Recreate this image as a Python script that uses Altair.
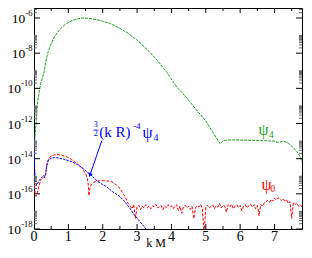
import altair as alt
import pandas as pd

# ---------------- data (log10 values) ----------------
green_x = [0.01, 0.05, 0.10, 0.15, 0.20, 0.25, 0.29, 0.34, 0.40, 0.48, 0.60, 0.75,
           0.90, 1.05, 1.20, 1.40, 1.60, 1.89, 2.20, 2.46, 2.75, 3.02, 3.30, 3.59,
           3.87, 4.15, 4.45, 4.72, 5.00, 5.19, 5.30, 5.42, 5.50, 5.60, 5.85, 6.20,
           6.60, 6.98, 7.12, 7.26, 7.40, 7.54, 7.65, 7.74, 7.80]
green_lg = [-13.2, -12.2, -10.9, -10.2, -9.7, -9.35, -9.15, -8.5, -8.0, -7.55, -7.05, -6.65,
            -6.38, -6.2, -6.08, -6.0, -6.02, -6.12, -6.3, -6.54, -6.88, -7.29, -7.8, -8.41,
            -9.1, -9.91, -10.55, -11.21, -11.85, -12.45, -12.8, -13.15, -13.0, -12.95, -12.93, -12.95,
            -12.97, -13.0, -13.08, -13.0, -13.12, -13.35, -13.6, -13.85, -14.2]

red_x = [0.01, 0.03, 0.06, 0.10, 0.15, 0.20, 0.25, 0.28, 0.31, 0.34, 0.38, 0.43, 0.50,
         0.60, 0.70, 0.80, 0.90, 1.00, 1.10, 1.20, 1.30, 1.40, 1.50, 1.55, 1.58, 1.60,
         1.62, 1.65, 1.70, 1.80, 1.90, 2.00, 2.10, 2.20, 2.30, 2.40, 2.46, 2.55, 2.65,
         2.74,
         2.80, 2.85, 2.90, 2.95, 3.00, 3.05, 3.10, 3.15, 3.20, 3.25, 3.30, 3.35, 3.40,
         3.45, 3.50, 3.55, 3.60, 3.65, 3.70, 3.75, 3.80, 3.85, 3.90, 3.95, 4.00, 4.05,
         4.10, 4.15, 4.20, 4.25, 4.30, 4.35, 4.40, 4.45, 4.50, 4.55, 4.60, 4.65, 4.70,
         4.75, 4.80, 4.85, 4.90, 4.95, 5.00, 5.05, 5.10, 5.15, 5.20, 5.25, 5.30, 5.35,
         5.40, 5.45, 5.50, 5.55, 5.60, 5.65, 5.70, 5.75, 5.80, 5.85, 5.90, 5.95, 6.00,
         6.05, 6.10, 6.15, 6.20, 6.25, 6.30, 6.35, 6.40, 6.45, 6.50, 6.55, 6.60, 6.65,
         6.70, 6.75, 6.80, 6.85, 6.90, 6.95, 7.00, 7.05, 7.10, 7.15, 7.20, 7.25, 7.30,
         7.35, 7.40, 7.45, 7.50, 7.55, 7.60, 7.65, 7.70, 7.75, 7.80]
red_lg = [-15.3, -16.0, -16.15, -15.9, -15.5, -15.2, -15.1, -15.04, -15.1, -14.8, -14.3, -14.0, -13.85,
          -13.78, -13.77, -13.8, -13.86, -13.93, -14.05, -14.2, -14.35, -14.55, -14.85, -15.1, -15.5, -16.1,
          -15.75, -15.55, -15.4, -15.28, -15.25, -15.25, -15.27, -15.27, -15.35, -15.5, -15.6, -15.85, -16.17,
          -16.54,
          -16.70, -16.85, -16.60, -17.40, -16.75, -16.65, -16.90, -16.70, -16.80, -16.62, -16.78, -16.70, -16.85,
          -16.68, -16.75, -16.60, -16.80, -16.72, -16.66, -16.90, -16.70, -16.78, -16.62, -16.74, -16.68, -16.85,
          -16.70, -16.62, -16.95, -16.70, -17.10, -16.75, -16.65, -16.80, -16.70, -16.90, -16.72, -17.40, -16.80,
          -16.68, -16.75, -16.60, -16.85, -18.30, -16.75, -16.65, -16.80, -16.70, -16.62, -16.85, -16.68, -16.75,
          -16.55, -16.80, -16.65, -16.70, -17.05, -16.62, -16.75, -16.60, -16.85, -16.70, -16.62, -16.78, -16.66,
          -16.95, -16.70, -16.62, -16.80, -16.68, -16.58, -16.75, -16.62, -16.85, -16.66, -17.25, -16.60, -16.70,
          -16.52, -16.45, -16.38, -16.50, -16.32, -16.42, -16.25, -16.35, -16.22, -16.30, -16.38, -16.28, -16.40,
          -16.33, -16.55, -16.45, -17.40, -16.50, -16.60, -16.52, -16.70, -16.62, -16.75]

blue_x = [0.005, 0.02, 0.04, 0.07, 0.10, 0.15, 0.19, 0.24, 0.28, 0.31, 0.34, 0.38, 0.42,
          0.52, 0.60, 0.71, 0.85, 0.99, 1.13, 1.27, 1.41, 1.55, 1.70, 1.84, 2.00, 2.10,
          2.30, 2.50, 2.64, 2.80, 2.92, 3.05, 3.20, 3.30]
blue_lg = [-12.8, -14.6, -15.35, -15.5, -15.42, -15.25, -15.14, -15.04, -14.95, -15.04, -14.9, -14.3, -14.07,
           -13.96, -13.94, -13.96, -14.02, -14.1, -14.2, -14.34, -14.53, -14.76, -15.0, -15.27, -15.48, -15.58,
           -15.9, -16.15, -16.44, -16.85, -17.19, -17.5, -17.85, -18.1]

x_tick_labels = [0, 1, 2, 3, 4, 5, 6, 7]
x_minor_ticks = [0.5, 1.5, 2.5, 3.5, 4.5, 5.5, 6.5, 7.5]
y_label_exps = [-6, -8, -10, -12, -14, -16, -18]
y_minor_mult = [2, 3, 4, 5, 6, 7, 8, 9, 10]
x_title = "k M"

# ---------------- layout / style ----------------
W, H = 268, 221
FONT = "Liberation Serif"
GREEN, RED, BLUE = "#18a018", "#ff0000", "#0000ff"

xs = alt.Scale(domain=[0, 7.8], nice=False, zero=False)
ys = alt.Scale(type="log", domain=[1e-18, 10 ** -5.43], nice=False)


def series(xv, lv, color, dash):
    df = pd.DataFrame({"x": xv, "y": [10 ** v for v in lv]})
    return alt.Chart(df).mark_line(color=color, strokeWidth=1, strokeDash=dash, clip=True).encode(
        x=alt.X("x:Q", scale=xs, axis=None),
        y=alt.Y("y:Q", scale=ys, axis=None),
    )


green = series(green_x, green_lg, GREEN, [3, 1])
red = series(red_x, red_lg, RED, [3, 1.5])
blue = series(blue_x, blue_lg, BLUE, [2.5, 1])

# ---------------- inward ticks ----------------
xmaj = pd.DataFrame({"v": x_tick_labels, "t": [str(v) for v in x_tick_labels]})
xmin = pd.DataFrame({"v": x_minor_ticks})
ymaj = pd.DataFrame({"v": [10.0 ** e for e in y_label_exps]})
ymin = pd.DataFrame({"v": [m * 10.0 ** e for e in y_label_exps for m in y_minor_mult]})


def xticks(df, length):
    base = alt.Chart(df).mark_rule(color="black", strokeWidth=1, clip=True)
    b = base.encode(x=alt.X("v:Q", scale=xs, axis=None), y=alt.value(H), y2=alt.value(H - length))
    t = base.encode(x=alt.X("v:Q", scale=xs, axis=None), y=alt.value(0), y2=alt.value(length))
    return b + t


def yticks(df, length, color="black"):
    base = alt.Chart(df).mark_rule(color=color, strokeWidth=1, clip=True)
    l = base.encode(y=alt.Y("v:Q", scale=ys, axis=None), x=alt.value(0), x2=alt.value(length))
    r = base.encode(y=alt.Y("v:Q", scale=ys, axis=None), x=alt.value(W), x2=alt.value(W - length))
    return l + r


ticks = xticks(xmaj, 5) + xticks(xmin, 3) + yticks(ymaj, 6) + yticks(ymin, 3, "#666666")

# ---------------- x tick labels and title ----------------
xlab = alt.Chart(xmaj).mark_text(font=FONT, fontSize=14, align="center", baseline="top",
                                 dy=1, color="black").encode(
    x=alt.X("v:Q", scale=xs, axis=None), y=alt.value(H), text="t:N")
xtitle = alt.Chart(pd.DataFrame({"t": [x_title]})).mark_text(
    font=FONT, fontSize=12, align="center", baseline="alphabetic", color="black").encode(
    x=alt.value(122), y=alt.value(H + 18), text="t:N")

# ---------------- y tick labels 10^e ----------------
short = pd.DataFrame({"v": [10.0 ** e for e in y_label_exps if e > -10],
                      "e": [str(e) for e in y_label_exps if e > -10]})
long_ = pd.DataFrame({"v": [10.0 ** e for e in y_label_exps if e <= -10],
                      "e": [str(e) for e in y_label_exps if e <= -10]})


def ylabels(df, base_x):
    ten = alt.Chart(df).mark_text(font=FONT, fontSize=13.5, align="right", baseline="middle",
                                  dy=1, color="black").encode(
        y=alt.Y("v:Q", scale=ys, axis=None), x=alt.value(base_x), text=alt.value("10"))
    ex = alt.Chart(df).mark_text(font=FONT, fontSize=8.5, align="right", baseline="middle",
                                 dy=-5, color="black").encode(
        y=alt.Y("v:Q", scale=ys, axis=None), x=alt.value(-1.5), text="e:N")
    return ten + ex


ylab = ylabels(short, -8.7) + ylabels(long_, -13)

# ---------------- annotations ----------------
def label(txt, x, lg, size, color, align="left"):
    return alt.Chart(pd.DataFrame({"a": [0]})).mark_text(
        text=txt, font=FONT, fontSize=size, color=color, align=align, baseline="middle"
    ).encode(x=alt.XDatum(x, scale=xs, axis=None), y=alt.YDatum(10 ** lg, scale=ys, axis=None))


ann = (
    label("3", 1.80, -12.10, 8, BLUE, "center")
    + label("2", 1.80, -12.62, 8, BLUE, "center")
    + label("(k R)", 1.90, -12.50, 15, BLUE)
    + label("-4", 2.88, -12.12, 9, BLUE)
    + label("\u03c8", 3.16, -12.55, 16, BLUE)
    + label("4", 3.48, -12.80, 10, BLUE)
    + label("\u03c8", 6.535, -12.36, 16, GREEN)
    + label("4", 6.83, -12.64, 10, GREEN)
    + label("\u03c8", 6.62, -15.52, 16, RED)
    + label("0", 6.873, -15.72, 10, RED)
)

one = pd.DataFrame({"a": [0]})
frac_bar = alt.Chart(one).mark_rule(color=BLUE, strokeWidth=0.7).encode(
    x=alt.XDatum(1.72, scale=xs, axis=None), x2=alt.X2Datum(1.88),
    y=alt.YDatum(10 ** -12.37, scale=ys, axis=None))
arrow = alt.Chart(one).mark_rule(color=BLUE, strokeWidth=1).encode(
    x=alt.XDatum(1.972, scale=xs, axis=None), x2=alt.X2Datum(1.634),
    y=alt.YDatum(10 ** -12.98, scale=ys, axis=None), y2=alt.Y2Datum(10 ** -14.9))
head = alt.Chart(one).mark_point(shape="triangle", angle=199, size=22, filled=True,
                                 color=BLUE, opacity=1).encode(
    x=alt.XDatum(1.634, scale=xs, axis=None), y=alt.YDatum(10 ** -14.9, scale=ys, axis=None))

chart = alt.layer(
    green, red, blue, ticks, xlab, xtitle, ylab, ann, frac_bar, arrow, head
).properties(
    width=W, height=H,
    autosize=alt.AutoSizeParams(type="none"),
    padding={"left": 26, "top": 0, "right": 2, "bottom": 21},
    background="white",
).configure_view(stroke="black", strokeWidth=1)

chart.save("out.html", embed_options={"renderer": "svg", "actions": False})
